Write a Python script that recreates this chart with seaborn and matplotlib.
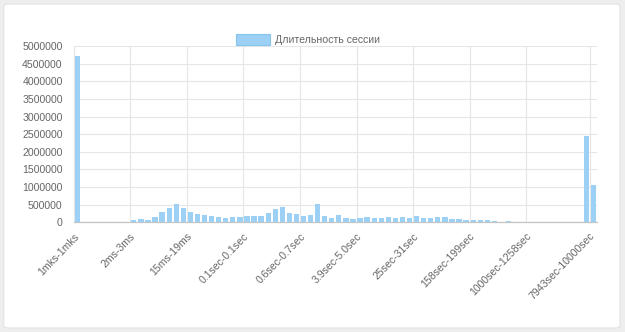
import numpy as np
import pandas as pd
import matplotlib
matplotlib.use("Agg")
import matplotlib.pyplot as plt
import seaborn as sns
from matplotlib.patches import FancyBboxPatch, Patch
from matplotlib.ticker import FixedLocator, FuncFormatter

# Log-scale duration bins (10 bins per decade), lower edges + final upper edge
BIN_EDGES = [
    "501mks", "631mks", "794mks", "1ms", "1ms", "1ms", "1ms", "2ms", "3ms", "3ms",
    "5ms", "6ms", "7ms", "10ms", "12ms", "15ms", "19ms", "25ms", "31ms", "39ms",
    "50ms", "63ms", "79ms", "0.1sec", "0.1sec", "0.1sec", "0.1sec", "0.2sec",
    "0.3sec", "0.3sec", "0.5sec", "0.6sec", "0.7sec", "1.0sec", "1.2sec", "1.5sec",
    "1.9sec", "2.5sec", "3.1sec", "3.9sec", "5.0sec", "6.3sec", "7.9sec", "10sec",
    "12sec", "15sec", "19sec", "25sec", "31sec", "39sec", "50sec", "63sec", "79sec",
    "100sec", "125sec", "158sec", "199sec", "251sec", "316sec", "398sec", "501sec",
    "630sec", "794sec", "1000sec", "1258sec", "1584sec", "1995sec", "2511sec",
    "3162sec", "3981sec", "5011sec", "6309sec", "7943sec", "10000sec",
]
CATEGORIES = ["1mks-1mks"] + [f"{a}-{b}" for a, b in zip(BIN_EDGES[:-1], BIN_EDGES[1:])]

# Number of sessions per duration bin
SESSIONS = [
    4720000, 0, 0, 0, 0, 0, 0, 0,
    65000, 95000, 65000, 155000, 275000, 410000, 505000, 415000,
    280000, 232000, 210000, 180000, 138000, 112000, 142000, 158000,
    185000, 185000, 185000, 255000, 385000, 435000, 262000, 232000,
    185000, 212000, 515000, 162000, 115000, 210000, 115000, 90000,
    115000, 143000, 115000, 115000, 143000, 115000, 143000, 115000,
    180000, 115000, 115000, 143000, 143000, 96000, 96000, 48000,
    48000, 48000, 48000, 28000, 0, 22000, 0, 0,
    0, 0, 0, 0, 0, 0, 0, 0,
    2445000, 1050000,
]
assert len(CATEGORIES) == len(SESSIONS) == 74

LABEL_EVERY = 8
SERIES_NAME = "Длительность сессии"

df = pd.DataFrame({"pos": np.arange(len(CATEGORIES)), "category": CATEGORIES, "sessions": SESSIONS})

sns.set_style("white")
plt.rcParams["font.family"] = ["Liberation Sans", "DejaVu Sans"]

TEXT = "#666666"
GRID = "#e6e6e6"
BAR_FILL = "#9dd0f5"

fig = plt.figure(figsize=(6.25, 3.32), dpi=100)
fig.patch.set_facecolor("#eeeeee")
card = FancyBboxPatch((0.006, 0.012), 0.986, 0.976, boxstyle="round,pad=0,rounding_size=0.008",
                      transform=fig.transFigure, facecolor="white", edgecolor="#e2e2e2",
                      linewidth=0.8, zorder=-10)
fig.add_artist(card)

ax = fig.add_axes([0.118, 0.331, 0.837, 0.530])
ax.set_facecolor("none")

sns.barplot(data=df, x="pos", y="sessions", color=BAR_FILL, width=0.75,
            linewidth=0, saturation=1, ax=ax, zorder=3)
for p in ax.patches:
    p.set_facecolor(BAR_FILL)

n = len(CATEGORIES)
ax.set_xlim(-0.5, n - 0.5)
ax.set_ylim(0, 5000000)

# x: labels at bin centres (every 8th bin plus the last), gridlines/ticks at bin left edges
label_idx = [i for i in range(0, n, LABEL_EVERY) if n - 1 - i >= LABEL_EVERY] + [n - 1]
ax.xaxis.set_major_locator(FixedLocator(label_idx))
ax.set_xticklabels([CATEGORIES[i] for i in label_idx], rotation=46, ha="right",
                   rotation_mode="anchor", va="center", color=TEXT, fontsize=7.6)
ax.xaxis.set_minor_locator(FixedLocator([i - 0.5 for i in label_idx]))
ax.tick_params(axis="x", which="major", length=0, pad=9)
ax.tick_params(axis="x", which="minor", length=7, color=GRID, width=0.8)
ax.grid(False)
ax.xaxis.grid(True, which="minor", color=GRID, linewidth=0.8, zorder=0)

# y: 500000 steps
ax.yaxis.set_major_locator(FixedLocator(np.arange(0, 5000001, 500000)))
ax.yaxis.set_major_formatter(FuncFormatter(lambda v, _: f"{int(v)}"))
ax.tick_params(axis="y", which="major", length=7, color=GRID, width=0.8, pad=1,
               labelsize=7.6, labelcolor=TEXT)
ax.yaxis.grid(True, color=GRID, linewidth=0.8, zorder=0)
ax.set_axisbelow(True)

ax.set_xlabel("")
ax.set_ylabel("")
for side in ("top", "right"):
    ax.spines[side].set_visible(False)
ax.spines["left"].set_color(GRID)
ax.spines["left"].set_linewidth(0.8)
ax.spines["bottom"].set_color("#c4c4c4")
ax.spines["bottom"].set_linewidth(0.9)

handle = Patch(facecolor=BAR_FILL, edgecolor="#86c4f0", linewidth=0.8)
fig.legend(handles=[handle], labels=[SERIES_NAME], loc="center",
           bbox_to_anchor=(0.493, 0.88), frameon=False, fontsize=7.6,
           handlelength=3.2, handleheight=1.15, handletextpad=0.5,
           labelcolor=TEXT)

fig.savefig("out.png", dpi=100, facecolor=fig.get_facecolor())
